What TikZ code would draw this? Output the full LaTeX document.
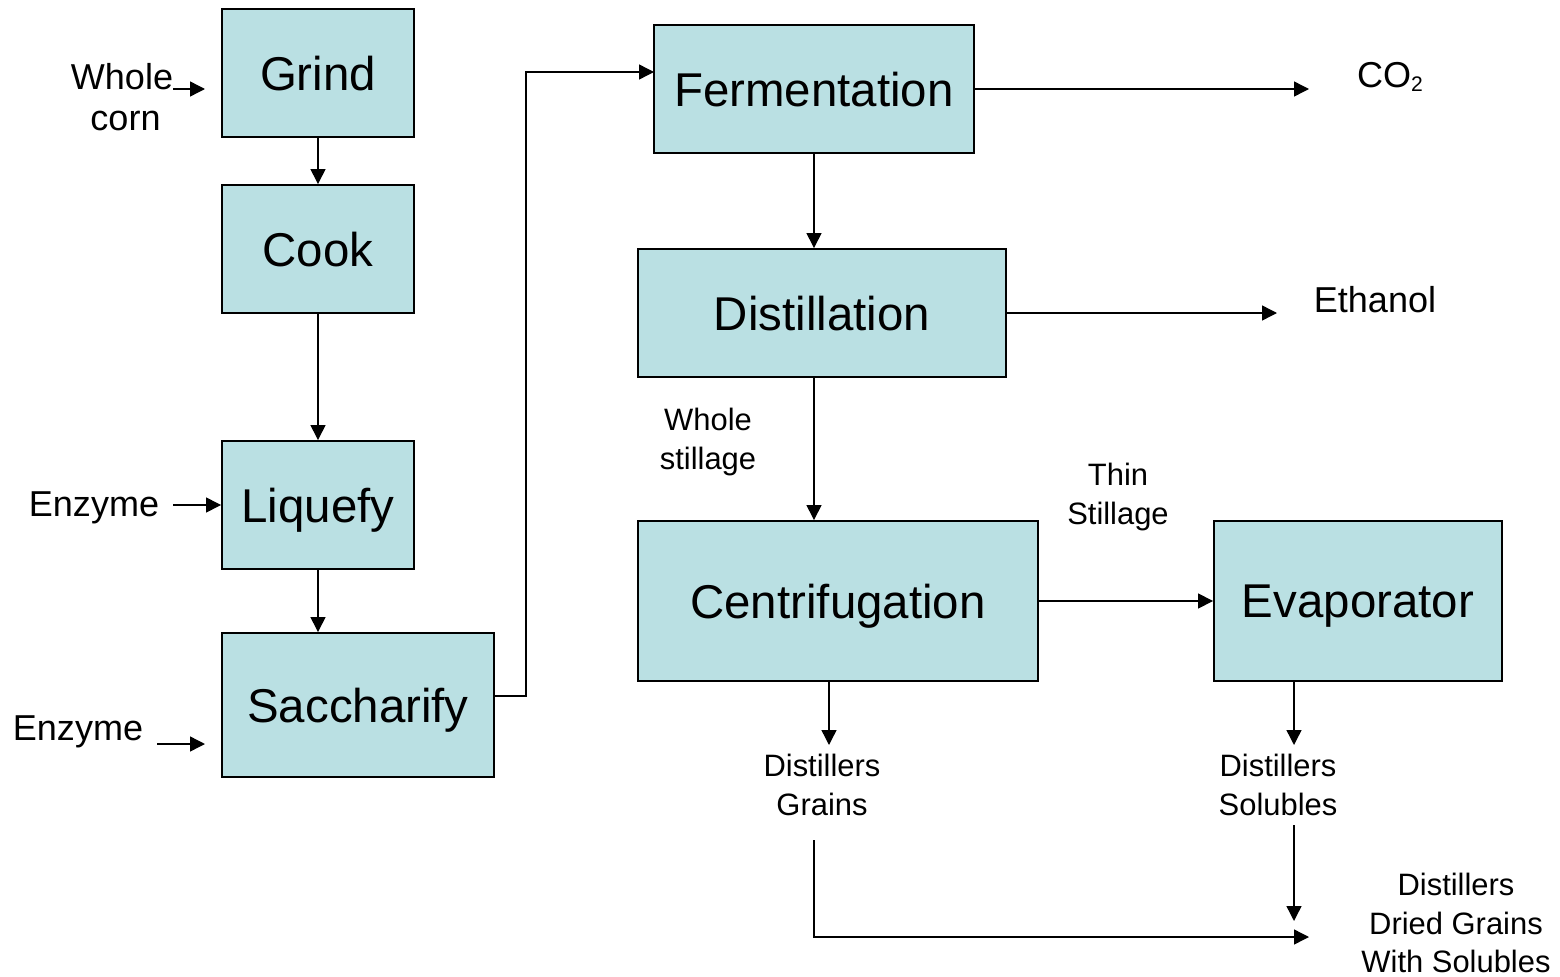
\documentclass[tikz,border=0pt]{standalone}
\usepackage{fontspec}
\setmainfont{Liberation Sans}
\usetikzlibrary{arrows.meta}
\definecolor{boxfill}{RGB}{186,224,227}
\tikzset{
  box/.style={draw=black, line width=1.1pt, fill=boxfill, inner sep=0pt,
    font=\fontsize{27}{32}\selectfont, text depth=0pt},
  arr/.style={line width=0.8pt, -{Triangle[length=3mm,width=3mm]}},
  biglbl/.style={font=\fontsize{20.5}{25.5}\selectfont, align=center, inner sep=0pt},
  smalllbl/.style={font=\fontsize{17.6}{22}\selectfont, align=center, inner sep=0pt}
}
\begin{document}
\begin{tikzpicture}[x=0.02cm,y=-0.02cm]
\useasboundingbox (0,0) rectangle (1560,977);
% boxes
\node[box, minimum width=3.84cm, minimum height=2.56cm] (grind) at (318,73) {Grind};
\node[box, minimum width=3.84cm, minimum height=2.56cm] (cook) at (318,249) {Cook};
\node[box, minimum width=3.84cm, minimum height=2.56cm] (liq) at (318,505) {Liquefy};
\node[box, minimum width=5.44cm, minimum height=2.88cm] (sac) at (358,705) {Saccharify};
\node[box, minimum width=6.4cm, minimum height=2.56cm] (fer) at (814,89) {Fermentation};
\node[box, minimum width=7.36cm, minimum height=2.56cm] (dis) at (822,313) {Distillation};
\node[box, minimum width=8.0cm, minimum height=3.2cm] (cen) at (838,601) {Centrifugation};
\node[box, minimum width=5.76cm, minimum height=3.2cm] (eva) at (1358,601) {Evaporator};
% labels
\node[biglbl] (corn) at (122,97) {Whole\\[-2pt]\hspace*{4pt}corn};
\node[biglbl] (enz1) at (94,508) {Enzyme};
\node[biglbl] (enz2) at (78,732) {Enzyme};
\node[biglbl] (co2) at (1390,77) {CO{\fontsize{12}{14}\selectfont\raisebox{-2pt}{2}}};
\node[biglbl] (eth) at (1375,300) {Ethanol};
\node[smalllbl] (whst) at (708,442) {Whole\\stillage};
\node[smalllbl] (thst) at (1118,497) {Thin\\Stillage};
\node[smalllbl] (dg) at (822,785) {Distillers\\Grains};
\node[smalllbl] (ds) at (1278,785) {Distillers\\Solubles};
\node[smalllbl] (ddgs) at (1456,923) {Distillers\\Dried Grains\\With Solubles};
% coordinates
\coordinate (cornA) at (173,89);
\coordinate (cornB) at (205,89);
\coordinate (enz1A) at (173,505);
\coordinate (enz2A) at (157,744);
\coordinate (enz2B) at (205,744);
\coordinate (sacOut) at (494,696);
\coordinate (turn) at (526,696);
\coordinate (ferIn) at (654,72);
\coordinate (co2B) at (1309,89);
\coordinate (ethB) at (1277,313);
\coordinate (dgIn) at (829,745);
\coordinate (dsIn) at (1294,745);
\coordinate (dsOut) at (1294,825);
\coordinate (ddgsIn) at (1294,921);
\coordinate (dgOut) at (814,840);
\coordinate (dgTurn) at (814,937);
\coordinate (ddgsIn2) at (1309,937);
% connectors
\draw[arr] (cornA) -- (cornB);
\draw[arr] (enz1A) -- (liq.west |- enz1A);
\draw[arr] (enz2A) -- (enz2B);
\draw[arr] (grind) -- (cook);
\draw[arr] (cook) -- (liq);
\draw[arr] (liq) -- (liq.south |- sac.north);
\draw[arr] (sacOut) -- (turn) |- (ferIn);
\draw[arr] (fer.east) -- (co2B);
\draw[arr] (fer.south) -- (fer.south |- dis.north);
\draw[arr] (dis.east) -- (ethB);
\draw[arr] (dis.south -| fer.south) -- (cen.north -| fer.south);
\draw[arr] (cen.east) -- (eva.west);
\draw[arr] (cen.south -| dgIn) -- (dgIn);
\draw[arr] (eva.south -| dsIn) -- (dsIn);
\draw[arr] (dsOut) -- (ddgsIn);
\draw[arr] (dgOut) -- (dgTurn) -- (ddgsIn2);
\end{tikzpicture}
\end{document}
